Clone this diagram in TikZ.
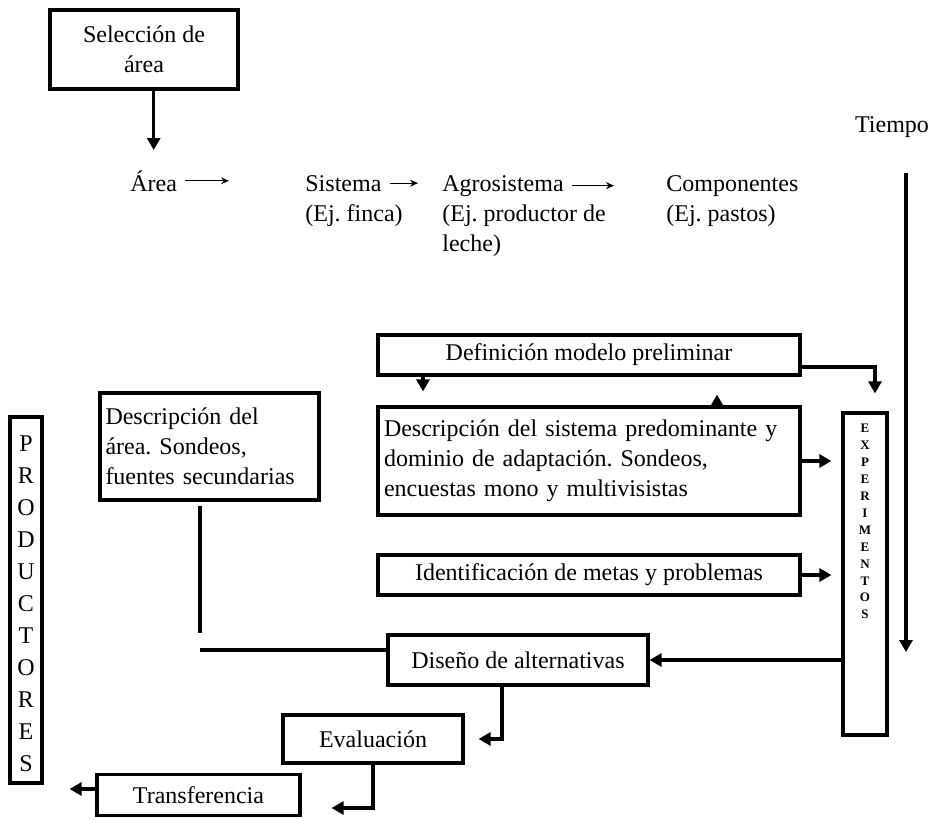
\documentclass[tikz,border=0pt]{standalone}
\usepackage{fontspec}
\setmainfont{Liberation Serif}
\usepackage{tikz}
\usetikzlibrary{arrows.meta, positioning}
\tikzset{
  caja/.style={draw, line width=1.6pt, inner sep=3pt},
  flecha/.style={line width=1.6pt, -{Triangle[length=6pt,width=6.5pt]}},
  linea/.style={line width=1.6pt},
  fina/.style={line width=0.6pt, -{Stealth[length=4pt,width=3.5pt]}, shorten <=2pt},
  texto/.style={inner sep=2pt, anchor=base west},
}
\frenchspacing
\begin{document}
\begin{tikzpicture}[x=0.5pt, y=-0.5pt, font=\fontsize{12}{15}\selectfont]
	\useasboundingbox (0,0) rectangle (933,820);

	\node[caja, minimum width=94pt, minimum height=39.5pt, align=center] (sel) at (144,49.5) {Selección de\\área};

	\node[texto] (area) at (126,191) {Área};
	\node[texto] (sis) at (301,191) {Sistema};
	\node[texto] (sisej) at (301,221) {(Ej. finca)};
	\node[texto] (agro) at (438,191) {Agrosistema};
	\node[texto] (agroej) at (438,221) {(Ej. productor de};
	\node[texto] (agroej2) at (438,251) {leche)};
	\node[texto] (comp) at (662,191) {Componentes};
	\node[texto] (compej) at (662,221) {(Ej. pastos)};
	\node (tiempo) at (892,127) {Tiempo};
	\coordinate (tini) at (906,173);
	\coordinate (tfin) at (906,652);

	\node[caja, minimum width=211pt, minimum height=20pt] (def) at (589,355) {Definición modelo preliminar};
	\node[caja, minimum width=211pt, minimum height=54pt, text width=205pt, inner xsep=2pt, align=left] (descs) at (589,461) {Descripción del sistema predominante y\\dominio de adaptación. Sondeos,\\encuestas mono y multivisistas};
	\node[caja, minimum width=211pt, minimum height=20pt] (ident) at (589,575) {Identificación de metas y problemas};
	\node[caja, minimum width=109.5pt, minimum height=53.5pt, text width=104pt, inner xsep=2pt, align=left] (desca) at (209.5,446.5) {Descripción del\\área. Sondeos,\\fuentes secundarias};
	\node[caja, minimum width=22pt, minimum height=161pt] (exp) at (865,574) {};
	\node[anchor=north, align=center, font=\fontsize{6.5}{8.45}\selectfont\bfseries] (expl) at ([yshift=-3pt]exp.north) {E\\X\\P\\E\\R\\I\\M\\E\\N\\T\\O\\S};
	\node[caja, minimum width=16pt, minimum height=183pt] (prod) at (26,600) {};
	\node[anchor=north, align=center, inner sep=1pt, font=\fontsize{12}{16}\selectfont] (prodl) at ([yshift=-9pt]prod.north) {P\\R\\O\\D\\U\\C\\T\\O\\R\\E\\S};
	\node[caja, minimum width=130pt, minimum height=25pt] (dis) at (518,660) {Diseño de alternativas};
	\node[caja, minimum width=90pt, minimum height=24pt] (eva) at (373,739) {Evaluación};
	\node[caja, minimum width=101.5pt, minimum height=20.5pt] (trans) at (198.5,795) {Transferencia};
	\coordinate (codo) at (200,633);

	\draw[flecha, shorten >=8pt] (sel.south -| area) -- (area.north);
	\draw[fina, shorten >=36pt] (area.east) -- (area.east -| sis.west);
	\draw[fina, shorten >=10pt] (sis.east) -- (sis.east -| agro.west);
	\draw[fina, shorten >=24pt] (agro.east) -- (agro.east -| comp.west);
	\draw[flecha] (tini) -- (tfin);

	\draw[flecha, shorten >=9pt] ([yshift=-6pt]def.east) -| ([xshift=5pt]exp.north);
	\draw[flecha, shorten >=7pt] ([xshift=-83pt]def.south) -- ([xshift=-83pt]descs.north);
	\draw[flecha, shorten >=9pt] ([xshift=64pt]descs.north) -- ([xshift=64pt]def.south);
	\draw[flecha, shorten >=5pt] (descs.east) -- (descs.east -| exp.west);
	\draw[flecha, shorten >=5pt] (ident.east) -- (ident.east -| exp.west);
	\draw[flecha] (exp.west |- dis.east) -- (dis.east);
	\draw[flecha, shorten >=7pt] ([xshift=-8pt]dis.south) |- (eva.east);
	\draw[flecha, shorten >=15pt] (eva.south) |- ([yshift=-6.5pt]trans.east);
	\draw[flecha, shorten >=13pt] ([yshift=3pt]trans.west) -- ([yshift=3pt]trans.west -| prod.east);
	\draw[linea, shorten <=2pt] (desca.south -| codo) -- (codo);
	\draw[linea] ([yshift=5pt]dis.west) -- ([yshift=5pt]dis.west -| codo);
\end{tikzpicture}
\end{document}
